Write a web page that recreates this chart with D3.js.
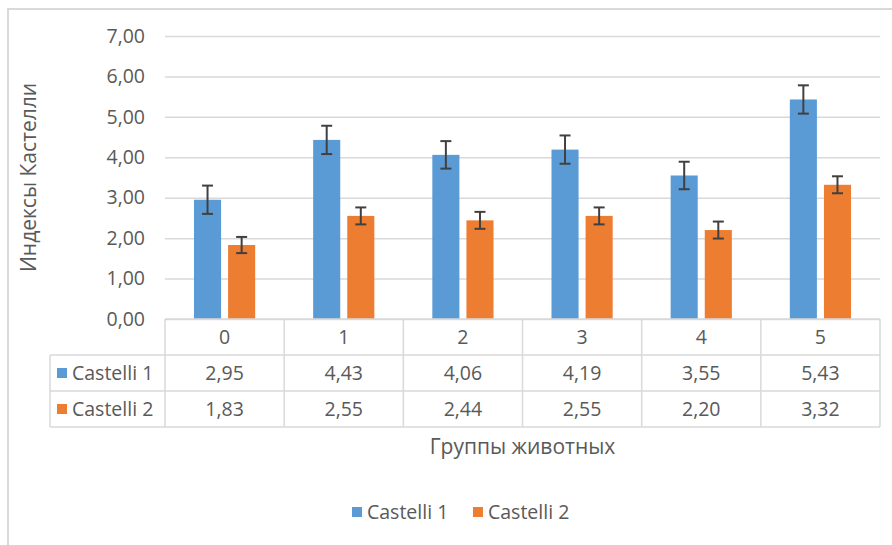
<!DOCTYPE html>
<html>
<head>
<meta charset="utf-8">
<script src="https://cdn.jsdelivr.net/npm/d3@7"></script>
<style>
  html, body { margin: 0; padding: 0; background: #fff; }
  svg { display: block; font-family: "Open Sans", "Noto Sans", sans-serif; }
</style>
</head>
<body>
<svg id="chart" width="892" height="545"></svg>
<script>
const categories = ["0", "1", "2", "3", "4", "5"];
const seriesNames = ["Castelli 1", "Castelli 2"];
const castelli1 = [2.95, 4.43, 4.06, 4.19, 3.55, 5.43];
const castelli2 = [1.83, 2.55, 2.44, 2.55, 2.20, 3.32];
const castelli1Err = [0.35, 0.35, 0.34, 0.35, 0.34, 0.35];
const castelli2Err = [0.20, 0.21, 0.21, 0.21, 0.21, 0.21];
const yTicks = [0, 1, 2, 3, 4, 5, 6, 7];
const yTitle = "Индексы Кастелли";
const xTitle = "Группы животных";

const colors = { "Castelli 1": "#5B9BD5", "Castelli 2": "#ED7D31" };
const textColor = "#595959";
const gridColor = "#D9D9D9";
const fs = "19.5px";

const series = [
  { name: seriesNames[0], values: castelli1, err: castelli1Err },
  { name: seriesNames[1], values: castelli2, err: castelli2Err }
];
const fmt = v => d3.format(".2f")(v).replace(".", ",");

const svg = d3.select("#chart");

// outer chart border (only top and left visible)
svg.append("rect").attr("x", 8).attr("y", 9).attr("width", 900).attr("height", 560)
  .attr("fill", "none").attr("stroke", gridColor).attr("stroke-width", 2);

const plot = { left: 165, right: 880, top: 36, bottom: 319 };
const tableLeft = 50, rowH = 36;

const x = d3.scaleBand().domain(categories).range([plot.left, plot.right]).padding(0);
const xs = d3.scaleBand().domain(seriesNames).range([0, x.bandwidth()])
  .paddingInner(0.206).paddingOuter(0.85);
const y = d3.scaleLinear().domain([0, 7]).range([plot.bottom, plot.top]);

// gridlines + y tick labels via axis
const yAxis = d3.axisLeft(y).tickValues(yTicks).tickFormat(fmt)
  .tickSize(-(plot.right - plot.left)).tickPadding(20);
const gy = svg.append("g").attr("transform", `translate(${plot.left},0)`).call(yAxis);
gy.select(".domain").remove();
gy.selectAll(".tick line").attr("stroke", gridColor).attr("stroke-width", 1.5);
gy.selectAll(".tick text").attr("fill", textColor).style("font-size", fs)
  .style("font-family", "'Open Sans', sans-serif");

// bars
const gBars = svg.append("g");
series.forEach(s => {
  gBars.selectAll(null).data(categories).enter().append("rect")
    .attr("x", c => x(c) + xs(s.name))
    .attr("y", (c, i) => y(s.values[i]))
    .attr("width", xs.bandwidth())
    .attr("height", (c, i) => y(0) - y(s.values[i]))
    .attr("fill", colors[s.name]);
});

// error bars
const gErr = svg.append("g").attr("stroke", "#404040").attr("stroke-width", 2).attr("fill", "none");
series.forEach(s => {
  categories.forEach((c, i) => {
    const cx = x(c) + xs(s.name) + xs.bandwidth() / 2;
    const y1 = y(s.values[i] + s.err[i]), y2 = y(s.values[i] - s.err[i]);
    gErr.append("line").attr("x1", cx).attr("x2", cx).attr("y1", y1).attr("y2", y2);
    gErr.append("line").attr("x1", cx - 5.5).attr("x2", cx + 5.5).attr("y1", y1).attr("y2", y1);
    gErr.append("line").attr("x1", cx - 5.5).attr("x2", cx + 5.5).attr("y1", y2).attr("y2", y2);
  });
});

// data table
const gT = svg.append("g").attr("stroke", gridColor).attr("stroke-width", 1.5);
const tTop = plot.bottom;
gT.append("line").attr("x1", plot.left).attr("x2", plot.right).attr("y1", tTop).attr("y2", tTop);
[1, 2, 3].forEach(r => {
  gT.append("line").attr("x1", tableLeft).attr("x2", plot.right)
    .attr("y1", tTop + r * rowH).attr("y2", tTop + r * rowH);
});
gT.append("line").attr("x1", tableLeft).attr("x2", tableLeft).attr("y1", tTop + rowH).attr("y2", tTop + 3 * rowH);
categories.concat(["end"]).forEach((c, i) => {
  const xx = i < categories.length ? x(c) : plot.right;
  gT.append("line").attr("x1", xx).attr("x2", xx).attr("y1", tTop).attr("y2", tTop + 3 * rowH);
});

const tText = svg.append("g").attr("fill", textColor).style("font-size", fs);
categories.forEach(c => {
  tText.append("text").attr("x", x(c) + x.bandwidth() / 2).attr("y", tTop + rowH / 2)
    .attr("dy", "0.35em").attr("text-anchor", "middle").text(c);
});
series.forEach((s, r) => {
  const cy = tTop + (r + 1.5) * rowH;
  svg.append("rect").attr("x", 57).attr("y", cy - 5).attr("width", 10).attr("height", 10)
    .attr("fill", colors[s.name]);
  tText.append("text").attr("x", 72).attr("y", cy).attr("dy", "0.35em").text(s.name);
  categories.forEach((c, i) => {
    tText.append("text").attr("x", x(c) + x.bandwidth() / 2).attr("y", cy)
      .attr("dy", "0.35em").attr("text-anchor", "middle").text(fmt(s.values[i]));
  });
});

// axis titles
svg.append("text").attr("transform", `translate(29,${(plot.top + plot.bottom) / 2}) rotate(-90)`)
  .attr("text-anchor", "middle").attr("dy", "0.35em").attr("fill", textColor)
  .style("font-size", "21px").text(yTitle);
svg.append("text").attr("x", (plot.left + plot.right) / 2).attr("y", 447)
  .attr("text-anchor", "middle").attr("dy", "0.35em").attr("fill", textColor)
  .style("font-size", "21px").text(xTitle);

// legend
const lg = svg.append("g");
const legendX = [352, 473];
series.forEach((s, i) => {
  lg.append("rect").attr("x", legendX[i]).attr("y", 507).attr("width", 10).attr("height", 10)
    .attr("fill", colors[s.name]);
  lg.append("text").attr("x", legendX[i] + 15).attr("y", 512).attr("dy", "0.35em")
    .attr("fill", textColor).style("font-size", fs).text(s.name);
});
</script>
</body>
</html>
